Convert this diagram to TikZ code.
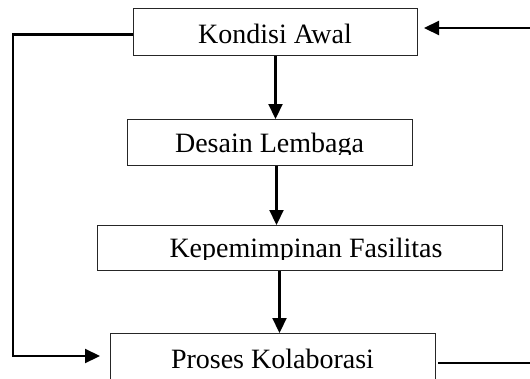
\documentclass[tikz,border=0pt]{standalone}
\usepackage{fontspec}
\setmainfont{Liberation Serif}
\usetikzlibrary{arrows.meta}
\begin{document}
\begin{tikzpicture}[x=1pt,y=-1pt,
  box/.style={draw=black!85, line width=1pt, inner sep=0pt, anchor=north west},
  lbl/.style={font=\fontsize{28}{30}\selectfont, inner sep=0pt, anchor=base},
  conn/.style={line width=2.2pt, -{Triangle[length=15pt,width=14pt]}},
  plain/.style={line width=2.2pt}]
\useasboundingbox (0,0) rectangle (530,378);
% boxes
\node[box, minimum width=284pt, minimum height=47pt] (k) at (133,8) {};
\node[box, minimum width=285pt, minimum height=46pt] (d) at (127,119) {};
\node[box, minimum width=405pt, minimum height=45pt] (kp) at (97,225) {};
\node[box, minimum width=325pt, minimum height=50pt] (p) at (110,333) {};
% labels
\node[lbl] (tk) at (275,43) {Kondisi Awal};
\begin{scope}
  \clip (127,119) rectangle (412,154.5);
  \node[lbl] (td) at (269.5,152) {Desain Lembaga};
\end{scope}
\begin{scope}
  \clip (97,225) rectangle (502,259.5);
  \node[lbl] (tkp) at (306,257) {Kepemimpinan Fasilitas};
\end{scope}
\node[lbl] (tp) at (272.5,368) {Proses Kolaborasi};
% vertical connectors
\draw[conn] (k.south) -- (k.south |- d.north);
\coordinate (ds) at ([xshift=6.5pt]d.south);
\draw[conn] (ds) -- (ds |- kp.north);
\coordinate (kps) at ([xshift=-20.5pt]kp.south);
\draw[conn] (kps) -- (kps |- p.north);
% left loop
\coordinate (kw) at ([yshift=-2.5pt]k.west);
\coordinate (lc) at (13,356);
\coordinate (pw) at ([xshift=-10pt]p.west);
\draw[conn] (kw) -| (lc) -- (pw |- lc);
% right side
\coordinate (r1) at (531,28);
\coordinate (ke) at ([xshift=6pt]k.east);
\draw[conn] (r1) -- (ke |- r1);
\coordinate (r2) at (531,363);
\coordinate (pe) at ([xshift=2pt]p.east);
\draw[plain] (pe |- r2) -- (r2);
\end{tikzpicture}
\end{document}
